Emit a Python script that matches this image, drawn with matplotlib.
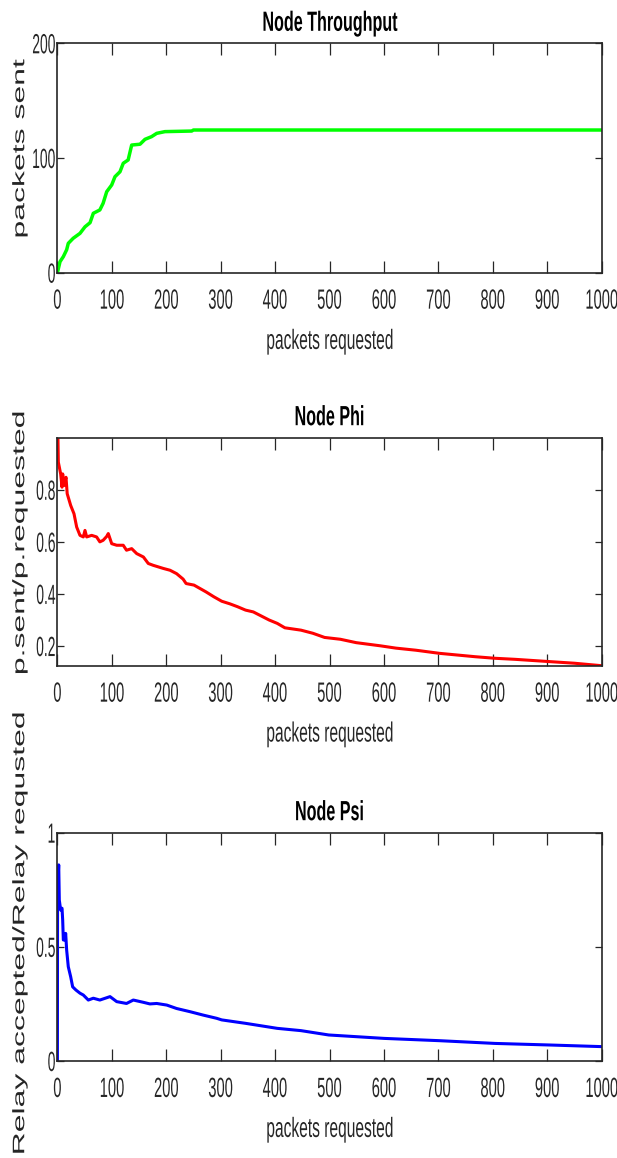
import matplotlib
matplotlib.use("Agg")
import matplotlib.pyplot as plt
from matplotlib.patheffects import AbstractPathEffect
from matplotlib.transforms import Affine2D

plt.rcParams['font.family'] = ['Liberation Sans', 'DejaVu Sans']

# values
req_ticks = [0, 100, 200, 300, 400, 500, 600, 700, 800, 900, 1000]
req_labels = ['0', '100', '200', '300', '400', '500', '600', '700', '800', '900', '1000']

thr_x = [0, 4.8, 10.9, 17, 20, 29, 41.5, 50.7, 60, 66, 78, 84, 90.6, 99.8, 105.8,
         115, 121, 130, 136.5, 151.8, 161, 173, 182.5, 197.7, 246.8, 250, 1000]
thr_y = [0, 9.6, 14, 20, 25.6, 30, 34.3, 40, 43.6, 51.8, 54.7, 60.5, 70.6, 76.5, 83.7,
         88, 95.4, 98.3, 111.3, 112, 116.3, 118.6, 121.5, 123, 123.5, 124.4, 124.4]
thr_ticks = [0, 100, 200]
thr_labels = ['0', '100', '200']

phi_x = [0, 1, 1.7, 6, 8.5, 9.7, 12, 15.8, 18, 24.4, 30.5, 35.4, 41.5, 47.6, 50.7,
         53.8, 63, 72, 78, 84, 90.6, 93.5, 99.8, 109, 121, 127, 136.5, 145.7, 158,
         167, 176, 194.6, 207, 219, 231, 236.5, 251, 273, 287.6, 302, 317, 331,
         345.7, 360, 389, 404, 418, 447.6, 469.5, 491, 520, 549, 593, 622, 658.6,
         702, 767.7, 804, 840.7, 906, 950, 1000]
phi_y = [1.0, 1.0, 0.906, 0.861, 0.81, 0.861, 0.816, 0.848, 0.785, 0.74, 0.708,
         0.657, 0.625, 0.619, 0.644, 0.619, 0.625, 0.619, 0.6, 0.606, 0.621, 0.632,
         0.593, 0.587, 0.587, 0.568, 0.574, 0.555, 0.542, 0.517, 0.51, 0.498, 0.491,
         0.478, 0.457, 0.44, 0.434, 0.408, 0.389, 0.372, 0.362, 0.351, 0.338, 0.331,
         0.3, 0.287, 0.27, 0.261, 0.249, 0.233, 0.226, 0.213, 0.201, 0.192, 0.184,
         0.172, 0.159, 0.153, 0.149, 0.14, 0.134, 0.1245]
phi_ticks = [0.2, 0.4, 0.6, 0.8]
phi_labels = ['0.2', '0.4', '0.6', '0.8']

psi_x = [0, 0.3, 2.4, 3.5, 6, 8.5, 9.7, 10.9, 13.4, 15.2, 17, 20, 24.4, 28, 34,
         41.5, 47.6, 56.8, 66, 78, 96.7, 109, 127, 139.5, 158, 170, 182.5, 201,
         219, 243.7, 268, 292.7, 302, 345.7, 404, 447.6, 498.5, 600.5, 702, 804,
         906, 1000]
psi_y = [0, 0.749, 0.859, 0.705, 0.661, 0.669, 0.618, 0.53, 0.53, 0.559, 0.486,
         0.413, 0.369, 0.325, 0.311, 0.297, 0.289, 0.267, 0.275, 0.267, 0.282, 0.26,
         0.252, 0.267, 0.257, 0.25, 0.252, 0.245, 0.23, 0.216, 0.201, 0.187, 0.18,
         0.165, 0.143, 0.133, 0.114, 0.099, 0.089, 0.077, 0.07, 0.063]
psi_ticks = [0, 0.5, 1]
psi_labels = ['0', '0.5', '1']


class Squeeze(AbstractPathEffect):
    # narrows glyphs horizontally, like the squashed original export
    def __init__(self, sx, anchor='center'):
        super().__init__()
        self.sx = sx
        self.anchor = anchor

    def draw_path(self, renderer, gc, tpath, affine, rgbFace=None):
        ext = tpath.get_extents(affine)
        if self.anchor == 'right':
            cx = ext.x1
        else:
            cx = (ext.x0 + ext.x1) / 2
        squash = Affine2D().translate(-cx, 0).scale(self.sx, 1).translate(cx, 0)
        renderer.draw_path(gc, tpath, affine + squash, rgbFace)


INK = '#262626'
W, H = 617, 1158
fig = plt.figure(figsize=(W / 100, H / 100), dpi=100)


def make_axes(top, bottom):
    return fig.add_axes([57.4 / W, 1 - bottom / H, 544.2 / W, (bottom - top) / H])


def style(ax, title, ylabel, yticks, ylabels, ylab_y):
    ax.set_xlim(0, 1000)
    ax.set_xticks(req_ticks)
    ax.set_xticklabels(req_labels)
    ax.set_yticks(yticks)
    ax.set_yticklabels(ylabels)
    for s in ax.spines.values():
        s.set_linewidth(1.2)
        s.set_color(INK)
    ax.tick_params(axis='both', direction='in', top=True, right=True,
                   width=0.9, color=INK, labelcolor=INK, labelsize=20)
    ax.tick_params(axis='x', length=8.5, pad=11.5)
    ax.tick_params(axis='y', length=4.8, pad=1)
    for lbl in ax.get_xticklabels():
        lbl.set_path_effects([Squeeze(0.53)])
    for lbl in ax.get_yticklabels():
        lbl.set_path_effects([Squeeze(0.5, 'right')])
    t = ax.set_title(title, fontsize=20, fontweight='bold', pad=9, color='black')
    t.set_path_effects([Squeeze(0.58)])
    xl = ax.set_xlabel('packets requested', fontsize=20, color=INK)
    xl.set_path_effects([Squeeze(0.56)])
    ax.xaxis.set_label_coords(0.5, -0.245)
    yl = ax.set_ylabel(ylabel, fontsize=23, color=INK)
    yl.set_path_effects([Squeeze(0.52, 'right')])
    ax.yaxis.set_label_coords(-0.054, ylab_y)


ax1 = make_axes(43.3, 272.7)
ax1.plot(thr_x, thr_y, color=(0, 1, 0), linewidth=2.5)
ax1.set_ylim(0, 200)
style(ax1, 'Node Throughput', 'packets sent', thr_ticks, thr_labels, 0.54)

ax2 = make_axes(437.7, 665.7)
ax2.plot(phi_x, phi_y, color=(1, 0, 0), linewidth=2.2)
ax2.set_ylim(0.1245, 1.0)
style(ax2, 'Node Phi', 'p.sent/p.requested', phi_ticks, phi_labels, 0.538)

ax3 = make_axes(832.7, 1061)
ax3.plot(psi_x, psi_y, color=(0, 0, 1), linewidth=2.2)
ax3.set_ylim(0, 1)
style(ax3, 'Node Psi', 'Relay accepted/Relay requsted', psi_ticks, psi_labels, 0.56)

fig.savefig('out.png', dpi=100)
